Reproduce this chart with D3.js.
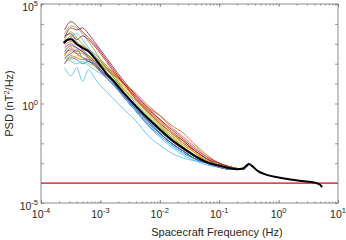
<!DOCTYPE html>
<html>
<head>
<meta charset="utf-8">
<script src="https://cdn.jsdelivr.net/npm/d3@7/dist/d3.min.js"></script>
<style>
body { margin: 0; background: #fff; }
text { font-family: "Liberation Sans", Arial, Helvetica, sans-serif; fill: #262626; }
</style>
</head>
<body>
<div id="chart"></div>
<script>
// frequency grid of the individual spectra (Hz)
var freq = [2.5e-4, 3.2e-4, 4e-4, 5e-4, 6.3e-4, 7.9e-4, 1e-3, 1.26e-3, 1.58e-3, 2.5e-3, 4e-3,
            6.3e-3, 1e-2, 1.58e-2, 2.5e-2, 4e-2, 6.3e-2, 0.1, 0.158, 0.25, 0.316];

// individual PSD spectra (nT^2/Hz)
var psd01 = [400, 800, 630, 400, 250, 160, 63, 32, 16, 3.2, 0.63, 0.16, 4e-2, 1.3e-2, 5e-3, 2e-3, 1e-3, 6.3e-4, 5e-4, 5e-4, 8e-4];
var psd02 = [800, 1300, 1000, 800, 500, 320, 160, 80, 40, 10, 2.5, 0.63, 0.25, 8e-2, 3.2e-2, 8e-3, 2.5e-3, 1e-3, 6.3e-4, 5e-4, 1e-3];
var psd03 = [160, 400, 320, 320, 250, 160, 100, 63, 32, 6.3, 1.6, 0.4, 0.1, 2.5e-2, 1e-2, 3.2e-3, 1.3e-3, 8e-4, 6.3e-4, 5e-4, 1e-3];
var psd04 = [1000, 2000, 1000, 500, 250, 130, 50, 25, 13, 2, 0.4, 0.1, 3.2e-2, 1e-2, 4e-3, 1.6e-3, 1e-3, 6.3e-4, 5e-4, 5e-4, 8e-4];
var psd05 = [3200, 8000, 6300, 3200, 1300, 500, 160, 63, 25, 5, 1, 0.25, 6.3e-2, 2e-2, 6.3e-3, 2.5e-3, 1.3e-3, 8e-4, 6.3e-4, 5e-4, 1e-3];
var psd06 = [63, 25, 63, 13, 50, 20, 8, 4, 2, 0.5, 0.13, 2.5e-2, 8e-3, 3.2e-3, 1.8e-3, 1.3e-3, 1e-3, 7e-4, 5e-4, 5e-4, 8e-4];
var psd07 = [5000, 1.3e4, 8000, 4000, 2000, 1000, 400, 160, 63, 10, 1.6, 0.4, 0.1, 3.2e-2, 1e-2, 4e-3, 1.6e-3, 8e-4, 6.3e-4, 5e-4, 1e-3];
var psd08 = [200, 320, 500, 200, 130, 100, 40, 20, 10, 2, 0.4, 8e-2, 2.5e-2, 8e-3, 3.2e-3, 1.6e-3, 1e-3, 6.3e-4, 5e-4, 5e-4, 8e-4];
var psd09 = [250, 630, 400, 500, 400, 200, 130, 63, 40, 8, 1.6, 0.4, 0.13, 3.2e-2, 1.3e-2, 4e-3, 1.6e-3, 8e-4, 6.3e-4, 5e-4, 1e-3];
var psd10 = [500, 800, 500, 320, 200, 200, 130, 80, 40, 8, 2, 0.5, 0.13, 3.2e-2, 1e-2, 3.2e-3, 1.3e-3, 8e-4, 6.3e-4, 5e-4, 1e-3];
var psd11 = [320, 500, 320, 200, 160, 80, 40, 20, 10, 2.5, 0.5, 0.13, 3.2e-2, 1e-2, 4e-3, 1.6e-3, 1e-3, 6.3e-4, 5e-4, 5e-4, 8e-4];
var psd12 = [1600, 4000, 2000, 1000, 500, 250, 130, 63, 32, 5, 1.3, 0.32, 8e-2, 2e-2, 8e-3, 3.2e-3, 1.3e-3, 8e-4, 6.3e-4, 5e-4, 1e-3];
var psd13 = [1300, 2500, 3200, 1600, 630, 250, 100, 40, 16, 3.2, 0.5, 0.1, 2.5e-2, 8e-3, 3.2e-3, 1.6e-3, 1e-3, 6.3e-4, 5e-4, 5e-4, 8e-4];
var psd14 = [2000, 6300, 5000, 6300, 3200, 1300, 500, 200, 80, 13, 2.5, 0.63, 0.16, 5e-2, 1.6e-2, 5e-3, 2e-3, 1e-3, 6.3e-4, 5e-4, 1e-3];
var psd15 = [100, 200, 160, 100, 130, 80, 50, 25, 13, 2.5, 0.5, 0.13, 3.2e-2, 1e-2, 4e-3, 1.6e-3, 1e-3, 6.3e-4, 5e-4, 5e-4, 8e-4];
var psd16 = [100, 250, 200, 160, 160, 130, 80, 50, 32, 10, 3.2, 0.8, 0.25, 6.3e-2, 2e-2, 6.3e-3, 2e-3, 1e-3, 6.3e-4, 5e-4, 1e-3];
var psd17 = [320, 160, 250, 200, 100, 80, 63, 40, 20, 5, 1.3, 0.32, 8e-2, 2.5e-2, 8e-3, 3.2e-3, 1.3e-3, 8e-4, 6.3e-4, 5e-4, 1e-3];
var psd18 = [630, 1000, 630, 400, 200, 100, 50, 25, 16, 3.2, 0.63, 0.16, 5e-2, 1.3e-2, 5e-3, 2e-3, 1e-3, 6.3e-4, 5e-4, 5e-4, 8e-4];
var psd19 = [1000, 2500, 1300, 630, 400, 200, 100, 50, 25, 4, 0.8, 0.2, 6.3e-2, 1.6e-2, 6.3e-3, 2.5e-3, 1.3e-3, 8e-4, 6.3e-4, 5e-4, 1e-3];
var psd20 = [200, 130, 100, 130, 80, 50, 32, 20, 10, 2, 0.4, 8e-2, 2e-2, 6.3e-3, 2.5e-3, 1.3e-3, 8e-4, 6.3e-4, 5e-4, 5e-4, 8e-4];
var psd21 = [2500, 3200, 1600, 2500, 1600, 800, 320, 130, 50, 10, 2, 0.5, 0.16, 4e-2, 1.3e-2, 4e-3, 1.6e-3, 1e-3, 6.3e-4, 5e-4, 1e-3];

var spectra = [psd01, psd02, psd03, psd04, psd05, psd06, psd07, psd08, psd09, psd10, psd11,
               psd12, psd13, psd14, psd15, psd16, psd17, psd18, psd19, psd20, psd21];

// matlab default color order
var lineColors = ["#0072BD", "#D95319", "#EDB120", "#7E2F8E", "#77AC30", "#4DBEEE", "#A2142F"];

// averaged spectrum (black)
var meanFreq = [2.4e-4, 2.8e-4, 3.2e-4, 4e-4, 5e-4, 6.3e-4, 7.9e-4, 1e-3, 1.26e-3, 1.58e-3, 2.5e-3,
                4e-3, 6.3e-3, 1e-2, 1.58e-2, 2.5e-2, 4e-2, 6.3e-2, 0.1, 0.158, 0.2, 0.25, 0.28,
                0.316, 0.35, 0.45, 0.63, 1, 1.58, 2.5, 4, 5, 5.4];
var meanPsd = [1100, 1600, 1700, 950, 630, 420, 200, 80, 32, 16, 3.2,
               0.71, 0.18, 5e-2, 1.5e-2, 5.6e-3, 2.2e-3, 1.1e-3, 7.6e-4, 5.4e-4, 5e-4, 5.4e-4, 7.1e-4,
               9.1e-4, 7.6e-4, 4e-4, 2.6e-4, 1.9e-4, 1.5e-4, 1.26e-4, 1.07e-4, 8.3e-5, 6.3e-5];

var noiseLevel = 1e-4;

var xTickExps = [-4, -3, -2, -1, 0, 1];
var yTickExps = [-5, 0, 5];
var yDecades = [1e-5, 1e-4, 1e-3, 1e-2, 1e-1, 1, 10, 100, 1e3, 1e4, 1e5];

var wS = 346,
    hS = 240;
var plot = { left: 41, right: 338, top: 4, bottom: 203 };

var svg = d3.select("#chart").append("svg")
  .attr("width", wS)
  .attr("height", hS);

svg.append("rect")
  .attr("width", wS)
  .attr("height", hS)
  .attr("fill", "#fff");

var xScale = d3.scaleLog()
  .domain([1e-4, 10])
  .range([plot.left, plot.right]);
var yScale = d3.scaleLog()
  .domain([1e-5, 1e5])
  .range([plot.bottom, plot.top]);

svg.append("clipPath")
  .attr("id", "clip")
  .append("rect")
  .attr("x", plot.left)
  .attr("y", plot.top)
  .attr("width", plot.right - plot.left)
  .attr("height", plot.bottom - plot.top);

var g = svg.append("g").attr("clip-path", "url(#clip)");

var line = d3.line()
  .x(function(d) { return xScale(d[0]); })
  .y(function(d) { return yScale(d[1]); })
  .curve(d3.curveMonotoneX);

g.selectAll(".spec")
  .data(spectra)
  .enter()
  .append("path")
  .attr("class", "spec")
  .attr("fill", "none")
  .attr("stroke", function(d, i) { return lineColors[i % lineColors.length]; })
  .attr("stroke-width", 0.8)
  .attr("d", function(d) { return line(d3.zip(freq, d)); });

// noise floor
g.append("line")
  .attr("x1", plot.left)
  .attr("x2", plot.right)
  .attr("y1", yScale(noiseLevel))
  .attr("y2", yScale(noiseLevel))
  .attr("stroke", "#e8000b")
  .attr("stroke-width", 1.2);

g.append("path")
  .attr("fill", "none")
  .attr("stroke", "#000")
  .attr("stroke-width", 2)
  .attr("stroke-linejoin", "round")
  .attr("d", line(d3.zip(meanFreq, meanPsd)));

// axes, matlab style: ticks inside on all four sides
var minorX = xScale.ticks();
function tickAxis(axis, scale, vals, size, tr) {
  svg.append("g")
    .attr("transform", tr)
    .call(axis(scale).tickValues(vals).tickSize(size).tickFormat(""))
    .call(function(a) {
      a.select(".domain").remove();
      a.selectAll("line").attr("stroke", "#6f6f6f").attr("stroke-width", 0.7);
    });
}
tickAxis(d3.axisBottom, xScale, minorX, -1.6, "translate(0," + plot.bottom + ")");
tickAxis(d3.axisTop, xScale, minorX, -1.6, "translate(0," + plot.top + ")");
var majorX = xTickExps.map(function(e) { return Math.pow(10, e); });
tickAxis(d3.axisBottom, xScale, majorX, -3, "translate(0," + plot.bottom + ")");
tickAxis(d3.axisTop, xScale, majorX, -3, "translate(0," + plot.top + ")");
tickAxis(d3.axisLeft, yScale, yDecades, -3, "translate(" + plot.left + ",0)");
tickAxis(d3.axisRight, yScale, yDecades, -3, "translate(" + plot.right + ",0)");

svg.append("rect")
  .attr("x", plot.left)
  .attr("y", plot.top)
  .attr("width", plot.right - plot.left)
  .attr("height", plot.bottom - plot.top)
  .attr("fill", "none")
  .attr("stroke", "#6f6f6f")
  .attr("stroke-width", 0.8);

// tick labels 10^n
xTickExps.forEach(function(e) {
  var t = svg.append("text")
    .attr("x", xScale(Math.pow(10, e)))
    .attr("y", 218)
    .attr("text-anchor", "middle")
    .style("font-size", "10.5px");
  t.append("tspan").text("10");
  t.append("tspan").attr("dy", -5).style("font-size", "7.5px").text(e);
});
yTickExps.forEach(function(e) {
  var t = svg.append("text")
    .attr("x", 38)
    .attr("y", yScale(Math.pow(10, e)) + 6.5)
    .attr("text-anchor", "end")
    .style("font-size", "10.5px");
  t.append("tspan").text("10");
  t.append("tspan").attr("dy", -5).style("font-size", "7.5px").text(e);
});

svg.append("text")
  .attr("x", 217)
  .attr("y", 236)
  .attr("text-anchor", "middle")
  .style("font-size", "11px")
  .text("Spacecraft Frequency (Hz)");

var yl = svg.append("text")
  .attr("transform", "translate(13," + ((plot.top + plot.bottom) / 2) + ")rotate(-90)")
  .attr("text-anchor", "middle")
  .style("font-size", "11px");
yl.append("tspan").text("PSD (nT");
yl.append("tspan").attr("dy", -4).style("font-size", "7.5px").text("2");
yl.append("tspan").attr("dy", 4).text("/Hz)");
</script>
</body>
</html>
